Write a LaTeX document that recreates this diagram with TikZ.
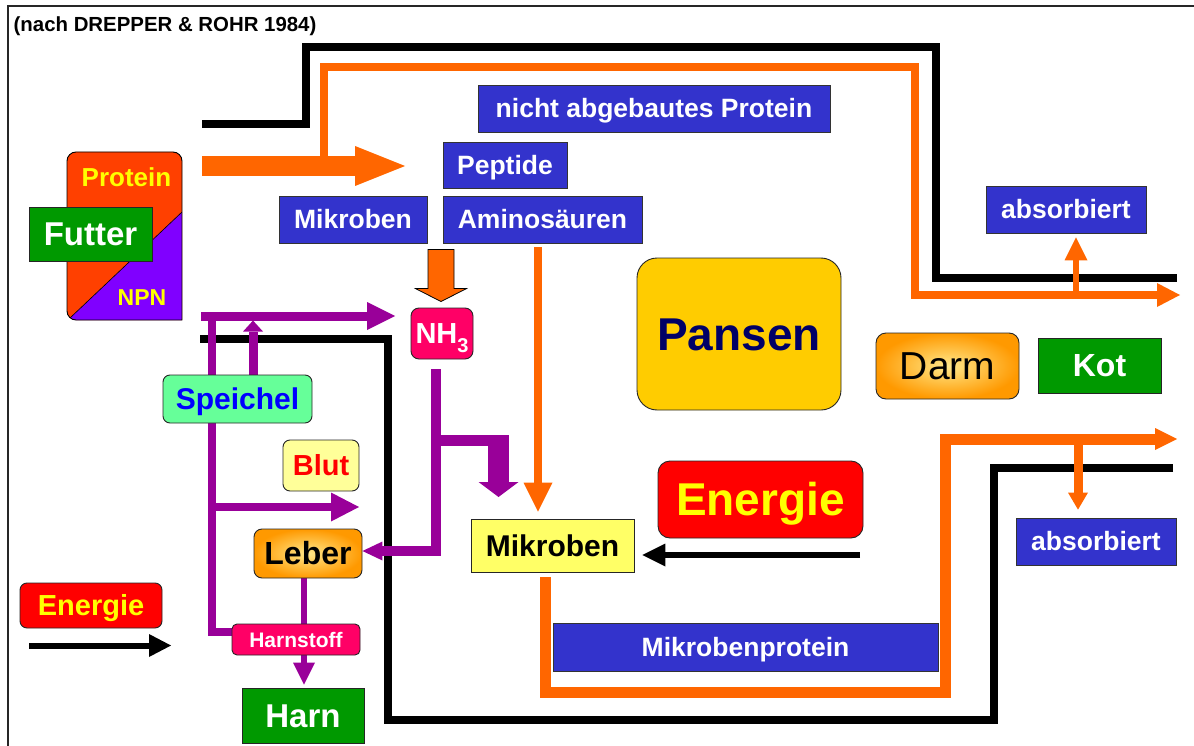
\documentclass[tikz,border=0pt]{standalone}
\usepackage{fontspec}
\setmainfont{Liberation Sans}
\usepackage{xcolor}
\usetikzlibrary{arrows.meta,backgrounds}

\definecolor{RumenBlue}{HTML}{3333CC}
\definecolor{RumenGreen}{HTML}{009900}
\definecolor{RumenOrange}{HTML}{FF6600}
\definecolor{RumenPurple}{HTML}{990099}
\definecolor{RumenRose}{HTML}{FF0066}
\definecolor{RumenRed}{HTML}{FF0000}
\definecolor{RumenYellow}{HTML}{FFFF00}
\definecolor{RumenGold}{HTML}{FFCC00}
\definecolor{RumenNavy}{HTML}{000066}
\definecolor{RumenMint}{HTML}{66FF99}
\definecolor{RumenCream}{HTML}{FFFF99}
\definecolor{RumenLemon}{HTML}{FFFF66}
\definecolor{RumenTangerine}{HTML}{FF9900}
\definecolor{RumenLight}{HTML}{FFE88A}
\definecolor{RumenFeedRed}{HTML}{FF4000}
\definecolor{RumenViolet}{HTML}{8000FF}

\newcommand{\fs}[1]{\fontsize{#1}{#1}\selectfont}

\tikzset{
  every node/.style = {inner sep=0pt, align=center},
  boxsize/.style 2 args = {minimum width=#1pt, minimum height=#2pt},
  txt/.style = {font=\bfseries\fs{#1}, text height={0.716*#1pt}, text depth=0pt},
  label box/.style = {draw=black!80, line width=0.8pt, fill=RumenBlue, text=white, txt=26.5},
  green box/.style = {draw=black!85, line width=0.8pt, fill=RumenGreen, text=white},
  round box/.style = {draw=black!85, line width=0.9pt, rounded corners=#1pt},
  gut box/.style = {round box=10, inner color=RumenLight, outer color=RumenTangerine},
  wall/.style = {draw=black, line width=8pt, line join=miter},
  flow orange/.style = {draw=RumenOrange, line join=miter},
  flow purple/.style = {draw=RumenPurple, line join=miter},
  headed/.style 2 args = {-{Triangle[length=#1pt,width=#2pt,line width=0pt]}},
}

\begin{document}
\begin{tikzpicture}[x=1pt,y=-1pt]
  \useasboundingbox (0,0) rectangle (1194,746);
  \draw[line width=2pt, black!85] (1194,6.5) -- (8,6.5) -- (8,746);
  \node[anchor=west, txt=20.4] (source) at (13.5,24) {(nach DREPPER \& ROHR 1984)};

  % Futter: Protein / NPN
  \begin{scope}
    \clip[rounded corners=9pt] (182,320) -- (67,320) -- (67,152) -- (182,152) -- (182,320);
    \fill[RumenFeedRed] (60,145) rectangle (190,325);
    \fill[RumenViolet] (182,212) -- (182,325) -- (62.6,325) -- cycle;
    \draw[line width=0.6pt] (182,212) -- (62.6,325);
  \end{scope}
  \draw[line width=0.9pt, rounded corners=9pt, line cap=rect] (182,320) -- (67,320) -- (67,152) -- (182,152) -- (182,320);
  \node[txt=26, text=RumenYellow] (protein) at (126.5,177) {Protein};
  \node[txt=23, text=RumenYellow] (npn) at (142,297) {NPN};
  \node[green box, boxsize={123}{54}, txt=33] (futter) at (90.5,234) {Futter};

  \node[label box, boxsize={352}{47}] (undeg) at (654,108.5) {nicht abgebautes Protein};
  \node[label box, boxsize={124}{46}] (peptide) at (505,165) {Peptide};
  \node[label box, boxsize={148}{47}] (microB) at (353,219.5) {Mikroben};
  \node[label box, boxsize={199}{47}] (amino) at (542.5,219.5) {Aminosäuren};
  \node[label box, boxsize={160}{47}] (absTop) at (1066,209.5) {absorbiert};
  \node[label box, boxsize={160}{47}] (absBot) at (1096,541.5) {absorbiert};
  \node[label box, boxsize={385}{48}] (microProt) at (745.5,647) {Mikrobenprotein};

  \node[round box=20, fill=RumenGold, boxsize={204}{152}, txt=46, text=RumenNavy] (pansen) at (739,334) {Pansen};
  \node[round box=8, fill=RumenRose, boxsize={62}{51}, txt=29, text=white] (nh3) at (442,333.5)
    {NH\raisebox{-9pt}{\fs{20}3}};
  \node[gut box, boxsize={143}{66}, font=\fs{39}, text height={0.716*39pt}, text depth=0pt] (darm) at (947.5,366) {Darm};
  \node[green box, boxsize={123}{55}, txt=32] (kot) at (1099.5,365.5) {Kot};
  \node[round box=12, fill=RumenRed, boxsize={205}{77}, txt=46, text=RumenYellow] (energyBig) at (760.5,499.5) {Energie};
  \node[draw=black!85, line width=0.9pt, fill=RumenLemon, boxsize={163}{53}, txt=30] (microY) at (552.5,545.5) {Mikroben};

  \node[round box=7, fill=RumenMint, boxsize={149}{48}, txt=30, text=blue] (speichel) at (237.5,399) {Speichel};
  \node[round box=7, fill=RumenCream, boxsize={76}{51}, txt=29, text=RumenRed] (blut) at (321,465.5) {Blut};
  \node[gut box, round box=8, boxsize={108}{49}, txt=32] (leber) at (308,553.5) {Leber};
  \node[round box=5, fill=RumenRose, boxsize={128}{31}, txt=21, text=white] (harnstoff) at (296,639.5) {Harnstoff};
  \node[green box, boxsize={122}{55}, txt=33] (harn) at (303,715.5) {Harn};
  \node[round box=7, fill=RumenRed, boxsize={142}{45}, txt=29, text=RumenYellow] (energySmall) at (91,605.5) {Energie};

  \begin{scope}[on background layer]
    % Wände des Verdauungstrakts
    \draw[wall] (202,124.5) -- (306,124.5) -- (306,47.5) -- (936,47.5) -- (936,278) -- (1177,278);
    \draw[wall] (1173,468) -- (994,468) -- (994,720) -- (388,720) -- (388,339) -- (200,339);

    % Proteinfluss
    \draw[flow orange, line width=8pt, headed={23}{24}] (324,166) -- (324,67) -- (915,67) -- (915,295) -- (1180,295);
    \draw[flow orange, line width=20pt, headed={50}{40}] (202,166) -- (405,166);
    \filldraw[fill=RumenOrange, draw=black, line width=0.8pt, line join=miter, shift={(nh3.north)}]
      (-14,-58) -- (12,-58) -- (12,-19) -- (24.5,-19) -- (-1,-6) -- (-26.5,-19) -- (-14,-19) -- cycle;
    \draw[flow orange, line width=8pt, headed={29}{29}] ([xshift=-4.5pt,yshift=-4pt]amino.south) -- ([xshift=-14.5pt,yshift=7pt]microY.north);
    \draw[flow orange, line width=6pt, headed={23}{23}] (1076,295) -- ([xshift=10pt,yshift=-4pt]absTop.south);
    \draw[flow orange, line width=11pt, headed={22}{22}] ([xshift=-7.5pt,yshift=-5pt]microY.south) -- (545,692) -- (945,692) -- (945,439) -- (1177,439);
    \draw[flow orange, line width=9pt, headed={17}{20}] (1078,439) -- ([xshift=-18pt,yshift=8pt]absBot.north);

    % Harnstoffkreislauf
    \draw[flow purple, line width=9pt, headed={28}{28}] (201,316) -- (395,316);
    \draw[flow purple, line width=8pt] (212,312) -- (212,632) -- (harnstoff.west |- 0,632);
    \draw[flow purple, line width=9pt, headed={11}{20}] ([xshift=15.5pt]speichel.north) -- ++(0,-54);
    \draw[flow purple, line width=8pt, headed={28}{29}] (212,507) -- (359,507);
    \draw[flow purple, line width=10pt, headed={20}{19}] ([xshift=-6pt,yshift=-10pt]nh3.south) -- (436,551) -- ([yshift=2.5pt]leber.east);
    \draw[flow purple, line width=11pt] (436,440.5) -- (493,440.5);
    \draw[flow purple, line width=21pt, headed={15}{40}] (498.5,435) -- (498.5,497);
    \draw[flow purple, line width=6pt] ([xshift=-4pt]leber.south) -- ([xshift=8pt]harnstoff.north);
    \draw[flow purple, line width=6pt, headed={22}{22}] ([xshift=8pt]harnstoff.south) -- ([xshift=1pt,yshift=3pt]harn.north);

    % Energie
    \draw[line width=6pt, headed={23}{23}] (860,555) -- ([xshift=8pt,yshift=-9.5pt]microY.east);
    \draw[line width=6pt, headed={22}{23}] (29,645.5) -- (171,645.5);
  \end{scope}
\end{tikzpicture}
\end{document}
